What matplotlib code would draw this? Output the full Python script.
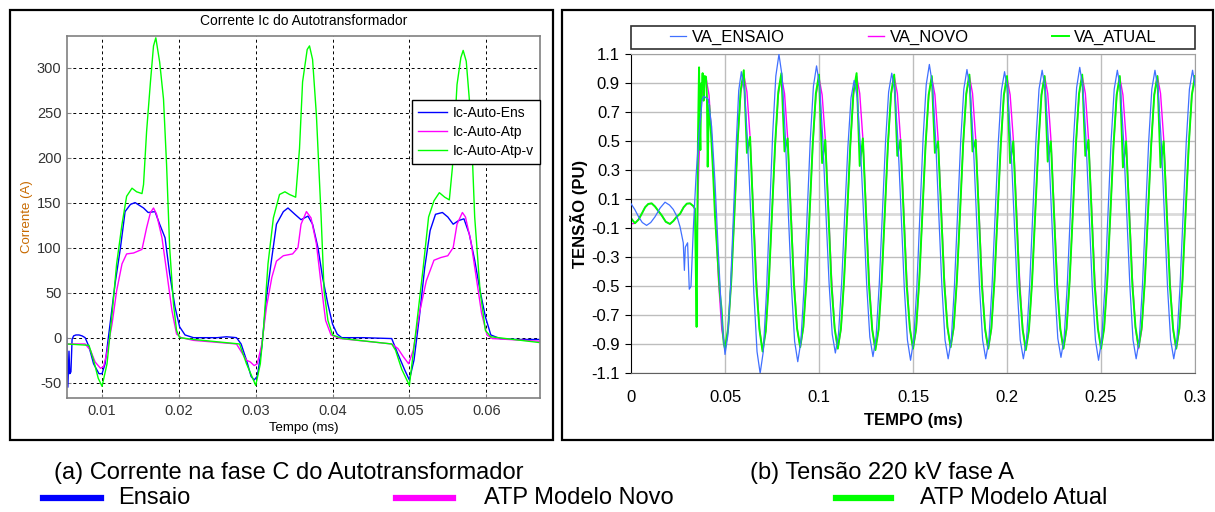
import matplotlib
matplotlib.use("Agg")
import matplotlib.pyplot as plt
import numpy as np
from matplotlib.patches import Rectangle
from matplotlib.lines import Line2D

plt.rcParams['font.family'] = ['Liberation Sans', 'DejaVu Sans']
plt.rcParams['axes.unicode_minus'] = False

# ---------------- (a) Corrente Ic do Autotransformador ----------------
t_ens = [0.0054, 0.00555, 0.0057, 0.0058, 0.00595, 0.0061, 0.0063, 0.0066, 0.0070, 0.0074,
         0.0078, 0.0083, 0.0089, 0.0096, 0.0100, 0.0104, 0.0111, 0.0117, 0.0124, 0.0130,
         0.0137, 0.0143, 0.0154, 0.0160, 0.0169, 0.0175, 0.0182, 0.0188, 0.0195, 0.0201,
         0.0208, 0.0219, 0.0250, 0.0262, 0.0275, 0.0281, 0.0288, 0.0294, 0.0298, 0.0302,
         0.0308, 0.0314, 0.0321, 0.0327, 0.0336, 0.0342, 0.0351, 0.0359, 0.0368, 0.0374,
         0.0381, 0.0387, 0.0394, 0.0400, 0.0406, 0.0412, 0.0440, 0.0477, 0.0485, 0.0494,
         0.0500, 0.0506, 0.0513, 0.0520, 0.0527, 0.0534, 0.0543, 0.0550, 0.0557, 0.0564,
         0.0571, 0.0578, 0.0585, 0.0592, 0.0599, 0.0606, 0.0618, 0.0640, 0.0670]
i_ens = [0, -55, -15, -40, -38, -2, 2, 3, 3, 2,
         0, -10, -29, -40, -40, -29, 19, 60, 100, 140,
         148, 150, 144, 139, 140, 126, 111, 71, 34, 12,
         3, 0, 0, 1, 0, -7, -25, -43, -47, -43,
         -10, 45, 89, 126, 140, 144, 137, 131, 135, 126,
         100, 67, 37, 15, 4, 0, 0, -1, -18, -36,
         -47, -25, 23, 78, 119, 137, 139, 134, 126, 130,
         132, 115, 86, 52, 23, 3, -1, -2, -2]

t_atp = [0.0054, 0.0078, 0.0085, 0.0091, 0.0098, 0.0102, 0.0106, 0.0113, 0.0119, 0.0126,
         0.0132, 0.0141, 0.0152, 0.0158, 0.0163, 0.0167, 0.0171, 0.0178, 0.0184, 0.0191,
         0.0197, 0.0203, 0.0219, 0.0275, 0.0288, 0.0293, 0.0298, 0.0302, 0.0308, 0.0314,
         0.0321, 0.0327, 0.0336, 0.0348, 0.0355, 0.0359, 0.0366, 0.0372, 0.0379, 0.0385,
         0.0391, 0.0398, 0.0410, 0.0477, 0.0485, 0.0492, 0.0499, 0.0505, 0.0513, 0.0522,
         0.0532, 0.0541, 0.0550, 0.0557, 0.0562, 0.0569, 0.0573, 0.0580, 0.0587, 0.0594,
         0.0601, 0.0608, 0.0670]
i_atp = [-7, -7, -14, -27, -34, -32, -18, 15, 52, 82,
         93, 94, 98, 122, 139, 144, 137, 111, 74, 30,
         4, 0, -3, -7, -25, -27, -31, -29, -7, 34,
         67, 85, 91, 93, 100, 126, 140, 133, 104, 60,
         19, 3, -1, -7, -12, -21, -29, -14, 27, 63,
         86, 89, 91, 100, 126, 139, 134, 107, 67, 27,
         3, -1, -4]

t_atpv = [0.0054, 0.0083, 0.0089, 0.0095, 0.0100, 0.01065, 0.0113, 0.0119, 0.0126, 0.0132,
          0.0139, 0.0145, 0.0152, 0.0154, 0.0158, 0.0163, 0.0167, 0.0170, 0.0175, 0.0180,
          0.0184, 0.0188, 0.0193, 0.0197, 0.0201, 0.0219, 0.0279, 0.0288, 0.0300, 0.0306,
          0.0310, 0.0316, 0.0323, 0.0331, 0.0338, 0.0344, 0.0352, 0.0357, 0.0361, 0.0367,
          0.0370, 0.0374, 0.0379, 0.0385, 0.0389, 0.0394, 0.0400, 0.0413, 0.0477, 0.0482,
          0.0490, 0.0500, 0.0508, 0.0518, 0.0525, 0.0532, 0.0539, 0.0546, 0.0552, 0.0556,
          0.0562, 0.0567, 0.0570, 0.0574, 0.0580, 0.0585, 0.0592, 0.0599, 0.0606, 0.0670]
i_atpv = [-7, -8.5, -25, -45, -54, -29, 26, 82, 126, 157,
          166, 162, 160, 170, 229, 284, 324, 333, 306, 265,
          192, 100, 37, 8, 0, -2, -7, -29, -53, -29,
          8, 82, 133, 159, 162, 159, 156, 210, 284, 320,
          324, 309, 247, 137, 52, 19, 3, -1, -7, -14,
          -35, -53, 4, 78, 134, 152, 161, 156, 153, 189,
          281, 311, 319, 307, 244, 134, 52, 8, 1, -5.5]

xticks_a = [0.01, 0.02, 0.03, 0.04, 0.05, 0.06]
yticks_a = [-50, 0, 50, 100, 150, 200, 250, 300]

# ---------------- (b) Tensao 220 kV fase A ----------------
step_b = 0.02 / 12

t_ensaio_ini = [0.0000, 0.0020, 0.0040, 0.0060, 0.0083, 0.0105, 0.0128, 0.0155, 0.0181, 0.0205,
                0.0225, 0.0245, 0.0261, 0.0278, 0.0284, 0.0289, 0.0301, 0.0310, 0.0319, 0.0332,
                0.0346, 0.0362, 0.0379, 0.0388, 0.0411, 0.0429, 0.0447, 0.0464, 0.0482, 0.0500,
                0.0515, 0.0530, 0.0545, 0.0560, 0.0573]
v_ensaio_ini = [0.07, 0.03, -0.02, -0.06, -0.08, -0.06, -0.02, 0.04, 0.08, 0.06,
                0.03, -0.02, -0.09, -0.20, -0.39, -0.23, -0.20, -0.52, -0.50, -0.09,
                0.26, 0.56, 0.79, 0.81, 0.79, 0.60, 0.21, -0.25, -0.71, -0.97,
                -0.84, -0.49, 0.00, 0.49, 0.85]
t0_ensaio = 0.0587
v_ensaio_per = [
    0.98, 0.85, 0.49, 0.00, -0.55, -0.95, -1.10, -0.95, -0.55, 0.00, 0.55, 0.95,
    1.10, 0.95, 0.55, 0.00, -0.51, -0.88, -1.02, -0.88, -0.51, 0.00, 0.51, 0.88,
    1.02, 0.88, 0.51, 0.00, -0.48, -0.83, -0.96, -0.83, -0.48, 0.00, 0.46, 0.80,
    0.92, 0.80, 0.46, 0.00, -0.49, -0.85, -0.985, -0.85, -0.49, 0.00, 0.49, 0.84,
    0.97, 0.84, 0.49, 0.00, -0.51, -0.87, -1.01, -0.87, -0.51, 0.00, 0.52, 0.89,
    1.03, 0.89, 0.52, 0.00, -0.50, -0.87, -1.00, -0.87, -0.50, 0.00, 0.50, 0.86,
    0.995, 0.86, 0.50, 0.00, -0.50, -0.87, -1.00, -0.87, -0.50, 0.00, 0.49, 0.85,
    0.98, 0.85, 0.49, 0.00, -0.50, -0.87, -1.00, -0.87, -0.50, 0.00, 0.50, 0.86,
    0.99, 0.86, 0.50, 0.00, -0.50, -0.86, -0.99, -0.86, -0.50, 0.00, 0.51, 0.87,
    1.01, 0.87, 0.51, 0.00, -0.51, -0.87, -1.01, -0.87, -0.51, 0.00, 0.50, 0.86,
    0.99, 0.86, 0.50, 0.00, -0.50, -0.87, -1.00, -0.87, -0.50, 0.00, 0.50, 0.86,
    0.99, 0.86, 0.50, 0.00, -0.50, -0.87, -1.00, -0.87, -0.50, 0.00, 0.50, 0.86,
    0.99, 0.86]

t_atual_ini = [0.0000, 0.0021, 0.0040, 0.0057, 0.0075, 0.0092, 0.0110, 0.0128, 0.0145, 0.0163,
               0.0185, 0.0207, 0.0225, 0.0243, 0.0261, 0.0280, 0.0297, 0.0314, 0.0330, 0.0340,
               0.0344, 0.0349, 0.0352, 0.0356, 0.0362, 0.0366, 0.0369, 0.0373, 0.0377, 0.0381,
               0.0386, 0.0391, 0.0399, 0.0404, 0.0408, 0.0412, 0.0416, 0.0426, 0.0436, 0.0447,
               0.0464, 0.0473, 0.0482, 0.0488, 0.0493]
v_atual_ini = [-0.03, -0.065, -0.04, 0.00, 0.045, 0.068, 0.072, 0.05, 0.02, -0.01,
               -0.055, -0.07, -0.05, -0.02, 0.00, 0.045, 0.07, 0.072, 0.055, 0.035,
               -0.30, -0.78, -0.20, 0.50, 1.01, 0.60, 0.44, 0.90, 0.86, 0.97,
               0.78, 0.95, 0.945, 0.80, 0.325, 0.60, 0.75, 0.55, 0.30, -0.02,
               -0.37, -0.55, -0.66, -0.80, -0.89]
t_novo_ini = [0.0000, 0.0021, 0.0040, 0.0057, 0.0075, 0.0092, 0.0110, 0.0128, 0.0145, 0.0163,
              0.0185, 0.0207, 0.0225, 0.0243, 0.0261, 0.0280, 0.0297, 0.0314, 0.0330, 0.0340,
              0.0349, 0.0360, 0.0372, 0.0385, 0.0400, 0.0415, 0.0430, 0.0447, 0.0465, 0.0483]
v_novo_ini = [-0.07, -0.065, -0.04, 0.00, 0.045, 0.068, 0.072, 0.05, 0.02, -0.01,
              -0.055, -0.07, -0.05, -0.02, 0.00, 0.045, 0.07, 0.072, 0.055, 0.035,
              -0.30, 0.30, 0.75, 0.90, 0.93, 0.82, 0.50, 0.05, -0.45, -0.80]

t0_atp = 0.05
v_atual_per = [
    -0.93, -0.79, -0.46, 0.00, 0.49, 0.85, 0.99, 0.42, 0.53, 0.00, -0.50, -0.80,
    -0.95, -0.81, -0.47, 0.00, 0.48, 0.84, 0.97, 0.43, 0.52, 0.00, -0.49, -0.79,
    -0.92, -0.78, -0.46, 0.00, 0.48, 0.83, 0.96, 0.35, 0.51, 0.00, -0.50, -0.79,
    -0.93, -0.79, -0.46, 0.00, 0.48, 0.84, 0.97, 0.33, 0.52, 0.00, -0.51, -0.80,
    -0.94, -0.80, -0.47, 0.00, 0.48, 0.83, 0.96, 0.40, 0.51, 0.00, -0.50, -0.79,
    -0.93, -0.79, -0.46, 0.00, 0.47, 0.82, 0.95, 0.42, 0.50, 0.00, -0.49, -0.78,
    -0.92, -0.78, -0.46, 0.00, 0.48, 0.83, 0.96, 0.43, 0.51, 0.00, -0.50, -0.79,
    -0.93, -0.79, -0.46, 0.00, 0.47, 0.82, 0.95, 0.35, 0.50, 0.00, -0.51, -0.80,
    -0.94, -0.80, -0.47, 0.00, 0.47, 0.82, 0.95, 0.36, 0.50, 0.00, -0.50, -0.79,
    -0.93, -0.79, -0.46, 0.00, 0.48, 0.83, 0.96, 0.40, 0.51, 0.00, -0.50, -0.79,
    -0.93, -0.79, -0.46, 0.00, 0.47, 0.82, 0.95, 0.32, 0.50, 0.00, -0.49, -0.78,
    -0.92, -0.78, -0.46, 0.00, 0.47, 0.82, 0.95, 0.32, 0.50, 0.00, -0.50, -0.79,
    -0.93, -0.79, -0.46, 0.00, 0.47, 0.82, 0.95]
v_novo_per = [
    -0.93, -0.80, -0.46, 0.00, 0.48, 0.83, 0.96, 0.84, 0.53, 0.05, -0.44, -0.79,
    -0.94, -0.81, -0.47, 0.00, 0.47, 0.82, 0.95, 0.83, 0.52, 0.05, -0.45, -0.79,
    -0.92, -0.79, -0.46, 0.00, 0.47, 0.81, 0.94, 0.82, 0.52, 0.05, -0.44, -0.79,
    -0.93, -0.80, -0.46, 0.00, 0.47, 0.82, 0.95, 0.83, 0.52, 0.05, -0.45, -0.80,
    -0.93, -0.80, -0.46, 0.00, 0.47, 0.82, 0.95, 0.83, 0.52, 0.05, -0.44, -0.79,
    -0.93, -0.80, -0.46, 0.00, 0.47, 0.81, 0.94, 0.82, 0.52, 0.05, -0.44, -0.79,
    -0.92, -0.79, -0.46, 0.00, 0.47, 0.82, 0.95, 0.83, 0.52, 0.05, -0.45, -0.80,
    -0.93, -0.80, -0.46, 0.00, 0.47, 0.81, 0.94, 0.82, 0.52, 0.05, -0.44, -0.79,
    -0.93, -0.80, -0.46, 0.00, 0.47, 0.82, 0.95, 0.83, 0.52, 0.05, -0.45, -0.80,
    -0.93, -0.80, -0.46, 0.00, 0.47, 0.82, 0.95, 0.83, 0.52, 0.05, -0.44, -0.79,
    -0.92, -0.79, -0.46, 0.00, 0.47, 0.81, 0.94, 0.82, 0.52, 0.05, -0.44, -0.79,
    -0.93, -0.80, -0.46, 0.00, 0.47, 0.82, 0.95, 0.83, 0.52, 0.05, -0.45, -0.80,
    -0.93, -0.80, -0.46, 0.00, 0.47, 0.82, 0.95]

xticks_b = [0, 0.05, 0.1, 0.15, 0.2, 0.25, 0.3]
xticklabels_b = ['0', '0.05', '0.1', '0.15', '0.2', '0.25', '0.3']
yticks_b = [-1.1, -0.9, -0.7, -0.5, -0.3, -0.1, 0.1, 0.3, 0.5, 0.7, 0.9, 1.1]

t_ensaio = np.concatenate([t_ensaio_ini, t0_ensaio + step_b * np.arange(len(v_ensaio_per))])
v_ensaio = np.concatenate([v_ensaio_ini, v_ensaio_per])
t_atual = np.concatenate([t_atual_ini, t0_atp + step_b * np.arange(len(v_atual_per))])
v_atual = np.concatenate([v_atual_ini, v_atual_per])
t_novo = np.concatenate([t_novo_ini, t0_atp + step_b * np.arange(len(v_novo_per))])
v_novo = np.concatenate([v_novo_ini, v_novo_per])

# ---------------- figure ----------------
fig = plt.figure(figsize=(12.15, 5.12), dpi=100)

# panel frames
fig.add_artist(Rectangle((10 / 1215, 1 - 440 / 512), 543 / 1215, 430 / 512,
                         transform=fig.transFigure, fill=False, ec='black', lw=1.6))
fig.add_artist(Rectangle((562 / 1215, 1 - 440 / 512), 651 / 1215, 430 / 512,
                         transform=fig.transFigure, fill=False, ec='black', lw=1.6))

# left
ax = fig.add_axes([67 / 1215, 1 - 398 / 512, 473 / 1215, 362 / 512])
ax.plot(t_ens, i_ens, color='#0000ff', lw=1.0, label='Ic-Auto-Ens')
ax.plot(t_atp, i_atp, color='#ff00ff', lw=1.0, label='Ic-Auto-Atp')
ax.plot(t_atpv, i_atpv, color='#00ff00', lw=1.0, label='Ic-Auto-Atp-v')
ax.set_xlim(0.00544, 0.067)
ax.set_ylim(-67, 335)
ax.set_xticks(xticks_a)
ax.set_xticklabels(['0.01', '0.02', '0.03', '0.04', '0.05', '0.06'])
ax.set_yticks(yticks_a)
ax.grid(True, color='black', ls=(0, (3, 3)), lw=0.7)
for s in ax.spines.values():
    s.set_color('#808080')
    s.set_linewidth(1.2)
ax.tick_params(direction='in', length=3, color='#808080', labelsize=10.5,
               labelcolor='#333333', pad=4)
ax.set_title('Corrente Ic do Autotransformador', fontsize=10, pad=8)
ax.set_xlabel('Tempo (ms)', fontsize=9.5, labelpad=3)
ax.set_ylabel('Corrente (A)', fontsize=9.5, color='#c86a00', labelpad=3)
leg = ax.legend(loc='upper right', bbox_to_anchor=(1.0, 0.823), borderaxespad=0,
                fontsize=10, fancybox=False, framealpha=1, edgecolor='black',
                handlelength=2.1, labelspacing=0.35, handletextpad=0.4,
                borderpad=0.45)
leg.get_frame().set_linewidth(1.0)

# right
bx = fig.add_axes([631 / 1215, 1 - 373.3 / 512, 564 / 1215, 319 / 512])
for y in yticks_b:
    bx.axhline(y, color='#bdbdbd', lw=1.0, zorder=0)
bx.axhline(0, color='#dadada', lw=2.0, zorder=0)
for x in xticks_b[1:]:
    bx.axvline(x, color='#bdbdbd', lw=1.0, zorder=0)
bx.plot(t_ensaio, v_ensaio, color='#4070ff', lw=0.9, label='VA_ENSAIO', zorder=3)
bx.plot(t_novo, v_novo, color='#ff00ff', lw=1.0, label='VA_NOVO', zorder=2)
bx.plot(t_atual, v_atual, color='#00ff00', lw=1.4, label='VA_ATUAL', zorder=2.5)
bx.set_xlim(0, 0.3)
bx.set_ylim(-1.1, 1.1)
bx.set_xticks(xticks_b)
bx.set_xticklabels(xticklabels_b)
bx.set_yticks(yticks_b)
bx.set_yticklabels(['%.1f' % v for v in yticks_b])
bx.tick_params(axis='x', length=0, labelsize=12, pad=12)
bx.tick_params(axis='y', length=4, direction='out', labelsize=12, pad=4)
bx.spines['left'].set_color('black')
bx.spines['bottom'].set_color('#606060')
bx.spines['top'].set_color('#a0a0a0')
bx.spines['right'].set_color('#a0a0a0')
bx.set_xlabel('TEMPO (ms)', fontsize=12, fontweight='bold', labelpad=6)
bx.set_ylabel('TENSÃO (PU)', fontsize=12, fontweight='bold', labelpad=2)
bx.add_patch(Rectangle((0, 1.0166), 1.0, 0.072, transform=bx.transAxes, fill=False,
                       ec='#303030', lw=1.2, clip_on=False))
bx.legend(loc='center', bbox_to_anchor=(0.5, 1.0527), ncol=3, frameon=False,
          fontsize=12, handlelength=1.0, handletextpad=0.3, columnspacing=5.0,
          borderaxespad=0)

# captions below the panels
fig.text(54 / 1215, 1 - 473 / 512, '(a) Corrente na fase C do Autotransformador',
         fontsize=17, va='center', ha='left')
fig.text(750 / 1215, 1 - 473 / 512, '(b) Tensão 220 kV fase A',
         fontsize=17, va='center', ha='left')
y_leg = 1 - 498 / 512
for (x0, x1, xt, col, lab) in [(43, 101, 118, '#0000ff', 'Ensaio'),
                               (396, 453, 484, '#ff00ff', 'ATP Modelo Novo'),
                               (836, 891, 920, '#00ff00', 'ATP Modelo Atual')]:
    fig.add_artist(Line2D([x0 / 1215, x1 / 1215], [y_leg, y_leg], color=col, lw=4.5,
                          transform=fig.transFigure))
    fig.text(xt / 1215, y_leg, lab, fontsize=17, va='center', ha='left')

fig.savefig('out.png', dpi=100)
